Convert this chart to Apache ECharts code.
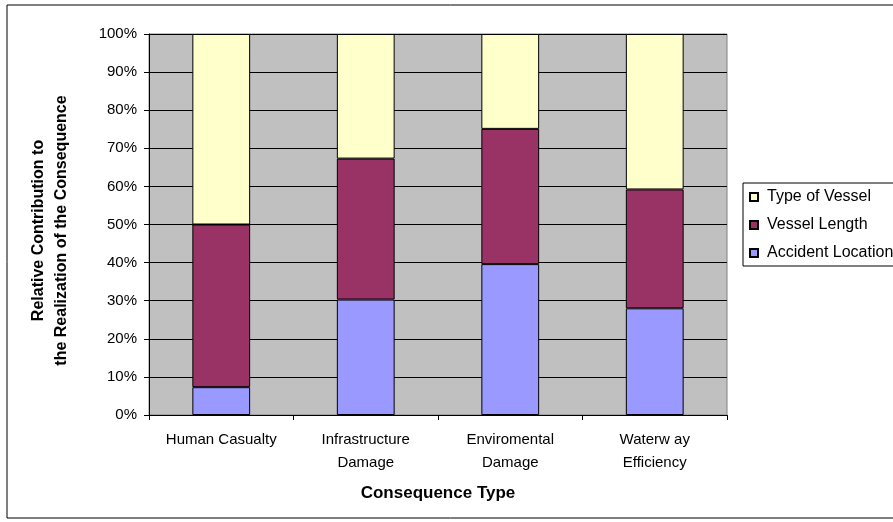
<!DOCTYPE html>
<html>
<head>
<meta charset="utf-8">
<script src="https://cdn.jsdelivr.net/npm/echarts@6/dist/echarts.min.js"></script>
<style>html,body{margin:0;padding:0;background:#fff;}#c{width:893px;height:522px;}</style>
</head>
<body>
<div id="c"></div>
<script>
var categories = ['Human Casualty', 'Infrastructure\nDamage', 'Enviromental\nDamage', 'Waterw ay\nEfficiency'];
var accidentLocation = [7.3, 30.3, 39.6, 28.0];
var vesselLength = [42.7, 37.0, 35.5, 31.2];
var typeOfVessel = [50.0, 32.7, 24.9, 40.8];
var yTicks = [0, 10, 20, 30, 40, 50, 60, 70, 80, 90, 100];

var font = 'Liberation Sans, Arial, sans-serif';
var chart = echarts.init(document.getElementById('c'));
function bar(name, data, color) {
  return {
    name: name, type: 'bar', stack: 'total', data: data, barWidth: '40%',
    itemStyle: { color: color, borderColor: '#000', borderWidth: 1 },
    emphasis: { disabled: true }
  };
}
chart.setOption({
  animation: false,
  textStyle: { fontFamily: font },
  graphic: [{
    type: 'rect', shape: { x: 7, y: 5, width: 900, height: 513 },
    style: { fill: 'none', stroke: '#000', lineWidth: 1 }, z: -10
  }],
  grid: {
    left: 149, right: 166, top: 34, bottom: 107,
    outerBoundsMode: 'none', containLabel: false,
    show: true, backgroundColor: '#C0C0C0', borderColor: '#808080', borderWidth: 1
  },
  legend: {
    orient: 'vertical', left: 743, top: 183,
    data: ['Type of Vessel', 'Vessel Length', 'Accident Location'],
    icon: 'rect', itemWidth: 8, itemHeight: 8, itemGap: 12,
    borderColor: '#000', borderWidth: 1, padding: [6, 10, 5, 6],
    textStyle: { fontSize: 16, color: '#000', fontFamily: font, padding: [0, 0, 0, 4] }
  },
  xAxis: {
    type: 'category', data: categories,
    axisLine: { lineStyle: { color: '#000' } },
    axisTick: { show: true, length: 5, lineStyle: { color: '#000' } },
    axisLabel: { fontSize: 15, color: '#000', margin: 13, lineHeight: 23, fontFamily: font },
    name: 'Consequence Type', nameLocation: 'middle', nameGap: 70,
    nameTextStyle: { fontSize: 17, fontWeight: 'bold', color: '#000', fontFamily: font }
  },
  yAxis: {
    type: 'value', min: 0, max: 100, interval: 10,
    axisLine: { show: true, lineStyle: { color: '#000' } },
    axisTick: { show: true, length: 5, lineStyle: { color: '#000' } },
    axisLabel: { fontSize: 15, color: '#000', margin: 12, formatter: '{value}%', fontFamily: font },
    splitLine: { show: true, lineStyle: { color: '#000', width: 1 } },
    name: 'Relative Contribution to\nthe Realization of the Consequence',
    nameLocation: 'middle', nameRotate: 90, nameGap: 76,
    nameTextStyle: { fontSize: 16, fontWeight: 'bold', color: '#000', lineHeight: 23, fontFamily: font, padding: [0, 12, 0, 0] }
  },
  series: [
    bar('Accident Location', accidentLocation, '#9999FF'),
    bar('Vessel Length', vesselLength, '#993366'),
    bar('Type of Vessel', typeOfVessel, '#FFFFCC')
  ]
});
</script>
</body>
</html>
